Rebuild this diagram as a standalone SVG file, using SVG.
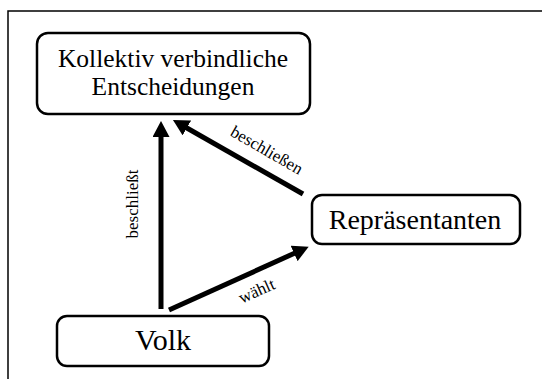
<svg xmlns="http://www.w3.org/2000/svg" width="542" height="379" viewBox="0 0 542 379">
<style>
.box{fill:#fff;stroke:#000;stroke-width:2.5}
.t{font-family:'Liberation Serif','DejaVu Serif',serif;fill:#000;text-anchor:middle}
.lbl{font-family:'Liberation Serif','DejaVu Serif',serif;fill:#000;font-size:17px;text-anchor:middle}
.conn{stroke:#000;stroke-width:5;fill:none;marker-end:url(#ah)}
.frame{stroke:#000;stroke-width:1.5;fill:none}
</style>
<defs>
<marker id="ah" markerUnits="userSpaceOnUse" markerWidth="16" markerHeight="17" refX="1" refY="8.5" orient="auto">
<path d="M0,0 L16,8.5 L0,17 z" fill="#000"/>
</marker>
</defs>
<rect width="542" height="379" fill="#fff"/>
<path class="frame" d="M8,379 V11 H542"/>
<g id="connectors">
<line class="conn" x1="161" y1="309" x2="161" y2="136"/>
<line class="conn" x1="303" y1="194" x2="186" y2="127.5"/>
<line class="conn" x1="169" y1="310" x2="295" y2="253"/>
<text class="lbl" font-family="Liberation Serif, DejaVu Serif, serif" transform="translate(138,204) rotate(-90)">beschließt</text>
<text class="lbl" font-family="Liberation Serif, DejaVu Serif, serif" transform="translate(264,155) rotate(30)">beschließen</text>
<text class="lbl" font-family="Liberation Serif, DejaVu Serif, serif" transform="translate(259,296) rotate(-24)">wählt</text>
</g>
<g id="entscheidungen">
<rect class="box" x="37" y="33" width="273" height="81" rx="11"/>
<text class="t" font-family="Liberation Serif, DejaVu Serif, serif" x="173" y="67" font-size="25.5">Kollektiv verbindliche</text>
<text class="t" font-family="Liberation Serif, DejaVu Serif, serif" x="173" y="95" font-size="25.5">Entscheidungen</text>
</g>
<g id="repraesentanten">
<rect class="box" x="312" y="195" width="208" height="49" rx="10"/>
<text class="t" font-family="Liberation Serif, DejaVu Serif, serif" x="415" y="229" font-size="28">Repräsentanten</text>
</g>
<g id="volk">
<rect class="box" x="57" y="316" width="212" height="50" rx="10"/>
<text class="t" font-family="Liberation Serif, DejaVu Serif, serif" x="163" y="350" font-size="30">Volk</text>
</g>
</svg>
